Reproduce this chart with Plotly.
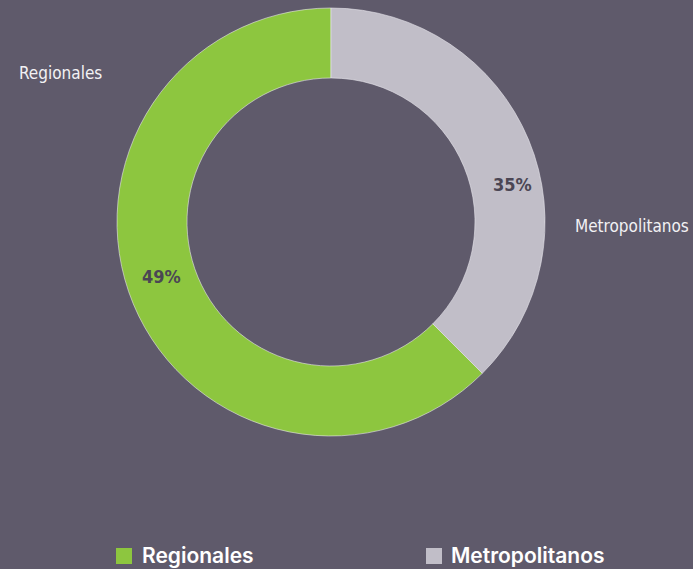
import plotly.graph_objects as go

categories = ["Regionales", "Metropolitanos"]
shares = [62.5, 37.5]
pct_labels = ["49%", "35%"]
colors = ["#8dc63f", "#c1bec8"]
BG = "#5f5a6b"

W, H = 693, 569
cx, cy, R = 331, 222, 214

fig = go.Figure(go.Pie(
    labels=categories, values=shares, sort=False, direction="clockwise",
    rotation=135, hole=0.673, textinfo="none", hoverinfo="label",
    marker=dict(colors=colors, line=dict(color="#e8e6ec", width=0.6)),
    domain=dict(x=[(cx - R) / W, (cx + R) / W], y=[1 - (cy + R) / H, 1 - (cy - R) / H]),
    showlegend=False,
))

narrow = "DejaVu Sans Condensed, Liberation Sans Narrow, sans-serif"
ann = []
# outside category labels
ann.append(dict(x=61 / W, y=1 - 73 / H, text=categories[0], showarrow=False,
                font=dict(family=narrow, size=17, color="#f2f1f4"), xanchor="center", yanchor="middle"))
ann.append(dict(x=632 / W, y=1 - 226 / H, text=categories[1], showarrow=False,
                font=dict(family=narrow, size=17, color="#f2f1f4"), xanchor="center", yanchor="middle"))
# percent labels
ann.append(dict(x=161 / W, y=1 - 276 / H, text="<b>" + pct_labels[0] + "</b>", showarrow=False,
                font=dict(family=narrow, size=18, color="#4b4654"), xanchor="center", yanchor="middle"))
ann.append(dict(x=512 / W, y=1 - 184 / H, text="<b>" + pct_labels[1] + "</b>", showarrow=False,
                font=dict(family=narrow, size=18, color="#4b4654"), xanchor="center", yanchor="middle"))

# custom legend
shapes = []
leg = [(116, 140), (426, 449)]
for (sx, tx), cat, col in zip(leg, categories, colors):
    shapes.append(dict(type="rect", xref="paper", yref="paper",
                       x0=sx / W, x1=(sx + 16) / W, y0=1 - 564 / H, y1=1 - 548 / H,
                       fillcolor=col, line=dict(width=0)))
    ann.append(dict(x=tx / W, y=1 - 555 / H, text=cat, showarrow=False,
                    font=dict(family="Inter, Open Sans, sans-serif", size=21, color="#ffffff", weight=600),
                    xanchor="left", yanchor="middle"))

fig.update_layout(
    width=W, height=H, margin=dict(l=0, r=0, t=0, b=0),
    paper_bgcolor=BG, plot_bgcolor=BG,
    annotations=ann, shapes=shapes,
)
fig.write_html("out.html", config={"displayModeBar": False},
               post_script="document.body.style.margin='0';document.body.style.overflow='hidden';")
